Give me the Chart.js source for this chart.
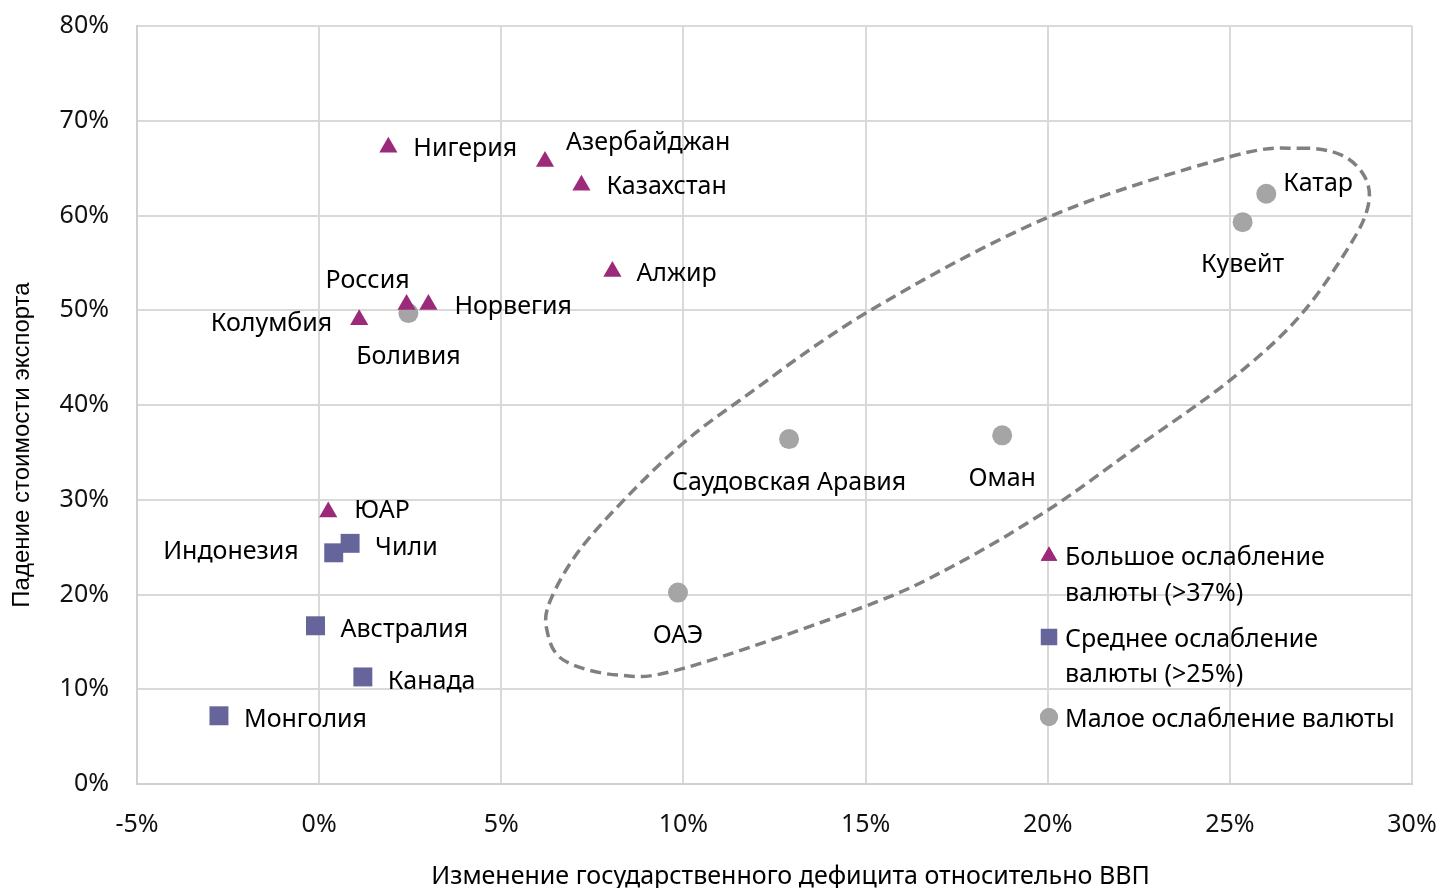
<!DOCTYPE html>
<html>
<head>
<meta charset="utf-8">
<script src="https://cdn.jsdelivr.net/npm/chart.js@4.4.1/dist/chart.umd.min.js"></script>
<style>
  html, body { margin: 0; padding: 0; background: #fff; }
  #wrap { width: 1439px; height: 888px; }
</style>
</head>
<body>
<div id="wrap"><canvas id="chart" width="1439" height="888"></canvas></div>
<script>
// values in % (x: change of budget deficit to GDP, y: drop of export value)
const largeNames = ['Нигерия', 'Азербайджан', 'Казахстан', 'Алжир', 'Россия', 'Норвегия', 'Колумбия', 'ЮАР'];
const largeX = [1.9, 6.2, 7.2, 8.05, 2.4, 3.0, 1.1, 0.25];
const largeY = [67.2, 65.7, 63.2, 54.1, 50.6, 50.6, 49.0, 28.7];

const mediumNames = ['Чили', 'Индонезия', 'Австралия', 'Канада', 'Монголия'];
const mediumX = [0.85, 0.4, -0.1, 1.2, -2.75];
const mediumY = [25.4, 24.4, 16.7, 11.3, 7.2];

const smallNames = ['Боливия', 'Катар', 'Кувейт', 'Саудовская Аравия', 'Оман', 'ОАЭ'];
const smallX = [2.45, 26.0, 25.35, 12.9, 18.75, 9.85];
const smallY = [49.7, 62.3, 59.3, 36.4, 36.8, 20.2];

const seriesNames = ['Большое ослабление валюты (>37%)', 'Среднее ослабление валюты (>25%)', 'Малое ослабление валюты'];

// dashed outline around the Gulf states, in axis units
const outlineX = [26.9, 28.05, 28.7, 28.8, 28.3, 26.9, 25.0, 22.35, 20.0, 17.35, 14.95, 10.0, 8.2, 6.7, 6.25, 6.35, 7.15, 8.55, 10.0, 11.55, 15.05, 20.0, 25.0];
const outlineY = [67.1, 66.4, 64.1, 61.1, 56.9, 49.3, 42.6, 35.3, 28.9, 22.9, 18.7, 12.2, 11.5, 13.1, 16.3, 19.4, 24.7, 30.7, 36.0, 40.5, 49.8, 59.8, 66.2];

const xTicks = [-5, 0, 5, 10, 15, 20, 25, 30];

// label placement, pixels relative to the marker [dx, dy, align]
const largeLabelPos = [[25, 2, 'left'], [21, -19, 'left'], [25, 2, 'left'], [24, 2, 'left'],
  [-39, -24, 'center'], [26, 2, 'left'], [-27, 4, 'right'], [26, -1, 'left']];
const mediumLabelPos = [[25, 5, 'left'], [-35, -1, 'right'], [25, 4, 'left'], [25, 5, 'left'], [25, 4, 'left']];
const smallLabelPos = [[0, 44, 'center'], [17, -10, 'left'], [0, 43, 'center'], [0, 44, 'center'], [0, 44, 'center'], [0, 43, 'center']];

const colors = ['#9c2a7a', '#65659b', '#a5a5a5'];
const FONT = '"Noto Sans", "Open Sans", sans-serif';
const FS = 25;

const toPoints = (xs, ys) => xs.map((x, i) => ({ x: x, y: ys[i] }));

const pointLabels = {
  id: 'pointLabels',
  afterDatasetsDraw(chart) {
    const ctx = chart.ctx;
    const names = [largeNames, mediumNames, smallNames];
    const pos = [largeLabelPos, mediumLabelPos, smallLabelPos];
    ctx.save();
    ctx.font = FS + 'px ' + FONT;
    ctx.fillStyle = '#000';
    ctx.textBaseline = 'middle';
    chart.data.datasets.forEach((ds, di) => {
      chart.getDatasetMeta(di).data.forEach((el, i) => {
        const p = pos[di][i];
        ctx.textAlign = p[2];
        ctx.fillText(names[di][i], el.x + p[0], el.y + p[1]);
      });
    });
    ctx.restore();
  }
};

const outline = {
  id: 'outline',
  beforeDatasetsDraw(chart) {
    const ctx = chart.ctx;
    const xs = chart.scales.x, ys = chart.scales.y;
    const pts = outlineX.map((v, i) => [xs.getPixelForValue(v), ys.getPixelForValue(outlineY[i])]);
    const n = pts.length;
    ctx.save();
    ctx.strokeStyle = '#808080';
    ctx.lineWidth = 3.5;
    ctx.setLineDash([11, 6]);
    ctx.beginPath();
    ctx.moveTo(pts[0][0], pts[0][1]);
    for (let i = 0; i < n; i++) {
      const p0 = pts[(i - 1 + n) % n], p1 = pts[i], p2 = pts[(i + 1) % n], p3 = pts[(i + 2) % n];
      ctx.bezierCurveTo(
        p1[0] + (p2[0] - p0[0]) / 6, p1[1] + (p2[1] - p0[1]) / 6,
        p2[0] - (p3[0] - p1[0]) / 6, p2[1] - (p3[1] - p1[1]) / 6,
        p2[0], p2[1]);
    }
    ctx.closePath();
    ctx.stroke();
    ctx.restore();
  }
};

const legendAndTitles = {
  id: 'legendAndTitles',
  afterDraw(chart) {
    const ctx = chart.ctx;
    const a = chart.chartArea;
    ctx.save();
    ctx.font = FS + 'px ' + FONT;
    ctx.fillStyle = '#000';
    ctx.textBaseline = 'middle';
    ctx.textAlign = 'left';
    // legend inside plot, lower right
    const mx = a.right - 363, tx = a.right - 347;
    const rows = [[a.bottom - 229, a.bottom - 193], [a.bottom - 147, a.bottom - 112], [a.bottom - 67]];
    const styles = ['triangle', 'rect', 'circle'];
    const radii = [9.5, 11.5, 9];
    seriesNames.forEach((name, i) => {
      const words = name.split(' ');
      const lines = rows[i].length > 1 ? [words.slice(0, 2).join(' '), words.slice(2).join(' ')] : [name];
      ctx.fillStyle = colors[i];
      Chart.helpers.drawPoint(ctx, { pointStyle: styles[i], radius: radii[i], rotation: 0, borderWidth: 0 },
        mx, rows[i][0] + (i === 0 ? 1 : 0));
      ctx.fill();
      ctx.fillStyle = '#000';
      lines.forEach((t, j) => ctx.fillText(t, tx, rows[i][j] + 3));
    });
    // axis titles
    ctx.textAlign = 'center';
    ctx.fillText('Изменение государственного дефицита относительно ВВП', (a.left + a.right) / 2 + 16, 877);
    ctx.translate(22, 445);
    ctx.rotate(-Math.PI / 2);
    ctx.font = '24px "Liberation Sans", Arial, sans-serif';
    ctx.fillText('Падение стоимости экспорта', 0, 0);
    ctx.restore();
  }
};

new Chart(document.getElementById('chart'), {
  type: 'scatter',
  data: {
    datasets: [
      { label: seriesNames[0], data: toPoints(largeX, largeY), pointStyle: 'triangle', pointRadius: 10.5,
        backgroundColor: colors[0], borderColor: colors[0], borderWidth: 0 },
      { label: seriesNames[1], data: toPoints(mediumX, mediumY), pointStyle: 'rect', pointRadius: 13.4,
        backgroundColor: colors[1], borderColor: colors[1], borderWidth: 0 },
      { label: seriesNames[2], data: toPoints(smallX, smallY), pointStyle: 'circle', pointRadius: 10,
        backgroundColor: colors[2], borderColor: colors[2], borderWidth: 0 }
    ]
  },
  options: {
    responsive: false,
    animation: false,
    devicePixelRatio: 1,
    layout: { padding: { left: 0, top: 26, right: 27, bottom: 0 } },
    plugins: { legend: { display: false }, tooltip: { enabled: false } },
    scales: {
      x: {
        type: 'linear', min: -5, max: 30,
        afterBuildTicks: s => { s.ticks = xTicks.map(v => ({ value: v })); },
        afterFit: s => { s.height = 104; },
        // invisible tick marks keep the label gap without widening the layout
        grid: { color: '#d9d9d9', lineWidth: 2, drawTicks: true, tickLength: 26, tickColor: 'rgba(0,0,0,0)' },
        border: { color: '#d0d0d0', width: 2 },
        ticks: { padding: 0, color: '#111', font: { family: FONT, size: FS }, callback: v => v + '%' }
      },
      y: {
        type: 'linear', min: 0, max: 80,
        afterFit: s => { s.width = 137; },
        grid: { color: '#d9d9d9', lineWidth: 2, drawTicks: true, tickLength: 28, tickColor: 'rgba(0,0,0,0)' },
        border: { color: '#d0d0d0', width: 2 },
        ticks: { stepSize: 10, padding: 0, color: '#111', font: { family: FONT, size: FS }, callback: v => v + '%' }
      }
    }
  },
  plugins: [outline, pointLabels, legendAndTitles]
});
</script>
</body>
</html>
